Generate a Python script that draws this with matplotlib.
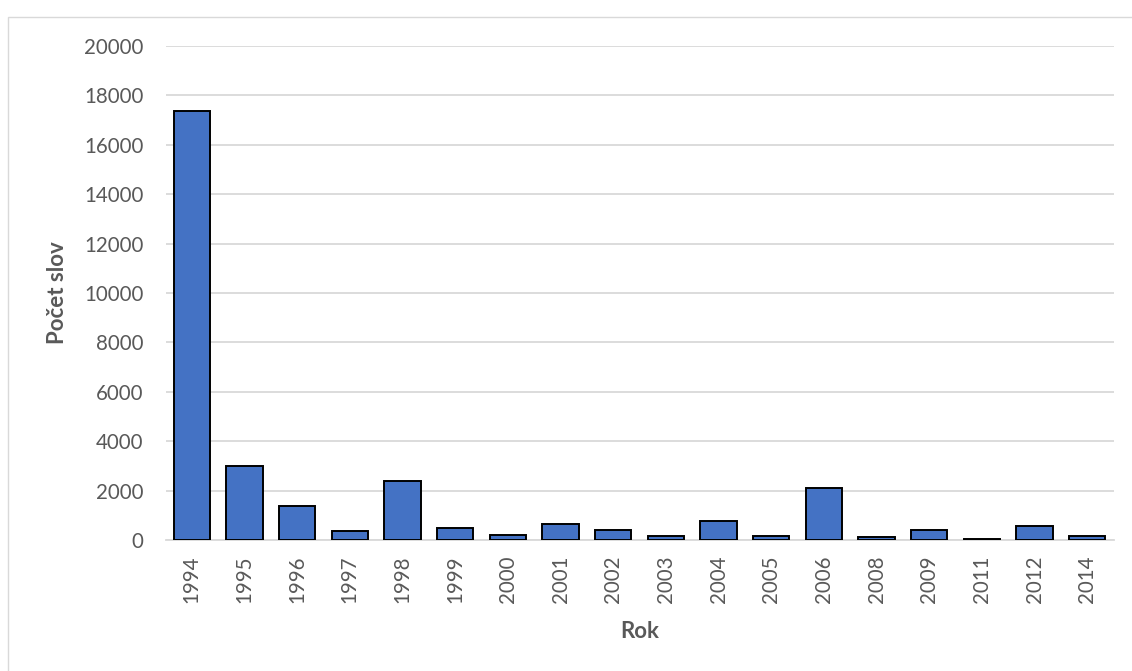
import matplotlib.pyplot as plt
from matplotlib.patches import Rectangle

years = ["1994", "1995", "1996", "1997", "1998", "1999", "2000", "2001", "2002",
         "2003", "2004", "2005", "2006", "2008", "2009", "2011", "2012", "2014"]
counts = [17350, 3020, 1400, 380, 2410, 490, 200, 660, 400,
          190, 770, 175, 2100, 135, 420, 65, 580, 190]
y_ticks = [0, 2000, 4000, 6000, 8000, 10000, 12000, 14000, 16000, 18000, 20000]

text_color = "#595959"
plt.rcParams['font.family'] = ['Lato', 'DejaVu Sans']

fig = plt.figure(figsize=(11.32, 6.71), dpi=100)
ax = fig.add_axes([165.5 / 1132, 1 - 540.3 / 671, (1113.5 - 165.5) / 1132, (540.3 - 45.7) / 671])

# outer chart border
fig.patches.append(Rectangle((8 / 1132, -0.1), 1.2, 1 - 17 / 671 + 0.1, transform=fig.transFigure,
                             fill=False, edgecolor="#d9d9d9", linewidth=1.0))

ax.bar(range(len(years)), counts, width=0.69, color="#4472c4", edgecolor="black", linewidth=1.4, zorder=3)

ax.set_xlim(-0.5, len(years) - 0.5)
ax.set_ylim(0, 20000)
ax.set_yticks(y_ticks)
ax.set_yticklabels([str(v) for v in y_ticks])
ax.set_xticks(range(len(years)))
ax.set_xticklabels(years, rotation=90)
ax.yaxis.grid(True, color="#d9d9d9", linewidth=1.3, zorder=0)
ax.tick_params(axis="y", length=0, pad=16, labelsize=14.8, labelcolor=text_color)
ax.tick_params(axis="x", length=0, pad=11, labelsize=14.8, labelcolor=text_color)

for side in ["top", "right", "left"]:
    ax.spines[side].set_visible(False)
ax.spines["bottom"].set_color("#d9d9d9")
ax.spines["bottom"].set_linewidth(1.3)

ax.set_ylabel("Počet slov", fontsize=16, fontweight="bold", color=text_color)
ax.yaxis.set_label_coords((68 - 165.5) / 948, 0.5)
ax.set_xlabel("Rok", fontsize=16, fontweight="bold", color=text_color)
ax.xaxis.set_label_coords(0.5, -(621 - 540.3) / 494.6)

fig.savefig("out.png", dpi=100)
